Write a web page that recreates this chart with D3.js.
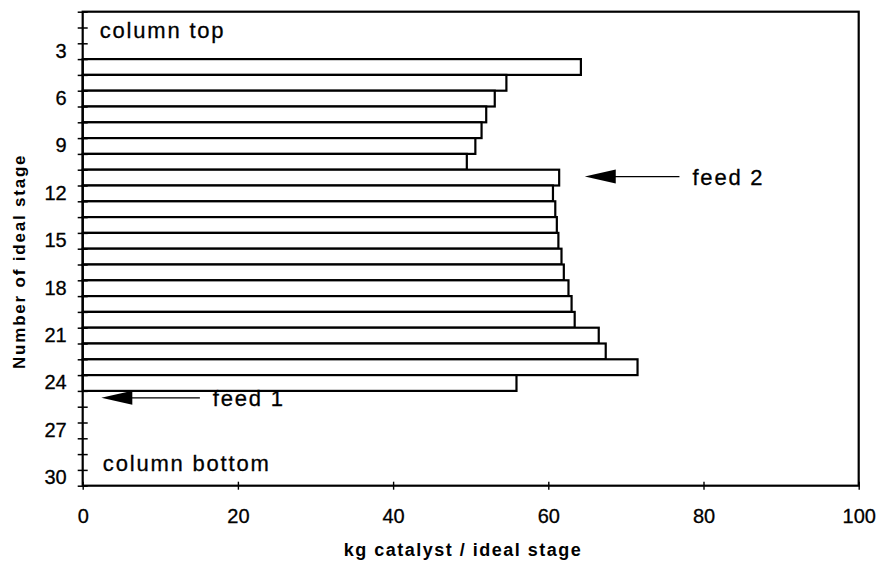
<!DOCTYPE html>
<html>
<head>
<meta charset="utf-8">
<script src="https://cdn.jsdelivr.net/npm/d3@7"></script>
<style>
  body { margin: 0; background: #fff; }
  svg { display: block; font-family: "Liberation Sans", Arial, sans-serif; }
</style>
</head>
<body>
<svg id="chart"></svg>
<script>
// stages that carry catalyst (column top = stage 1)
let stages = [4, 5, 6, 7, 8, 9, 10, 11, 12, 13, 14, 15, 16, 17, 18, 19, 20, 21, 22, 23, 24];
let catalystKg = [64.2, 54.6, 53.1, 52.0, 51.4, 50.6, 49.5, 61.4, 60.6, 60.9, 61.1,
                  61.3, 61.7, 62.0, 62.6, 63.0, 63.4, 66.5, 67.4, 71.5, 55.9];
let stageTickLabels = [3, 6, 9, 12, 15, 18, 21, 24, 27, 30];
let xTickValues = [0, 20, 40, 60, 80, 100];
let feedNames = ["feed 1", "feed 2"];
let feedStages = [25, 11];
let feedArrowFrom = [15.1, 76.9];
let feedArrowTo = [2.4, 64.7];

function drawChart(){
    let config = chartConfig();
    let scales = chartScales(config);
    drawBars(scales, config);
    drawAxes(scales, config);
    drawNotes(scales, config);
}

function chartConfig(){
    let width = 877;
    let height = 564;
    let margin = {top: 11.7, left: 82.7, right: 18.3, bottom: 78.3};
    let bodyWidth = width - margin.left - margin.right;
    let bodyHeight = height - margin.top - margin.bottom;
    let container = d3.select("#chart").attr("width", width).attr("height", height);
    let body = container.append("g")
        .attr("transform", `translate(${margin.left},${margin.top})`);
    return {width, height, margin, bodyWidth, bodyHeight, container, body};
}

function chartScales(config){
    let {bodyWidth, bodyHeight} = config;
    let xScale = d3.scaleLinear().domain([0, 100]).range([0, bodyWidth]);
    let yBand = d3.scaleBand().domain(d3.range(1, 31)).range([0, bodyHeight]).padding(0);
    let yLin = d3.scaleLinear().domain([0, 30]).range([0, bodyHeight]);
    return {xScale, yBand, yLin};
}

function drawAxes(scales, config){
    let {body, bodyWidth, bodyHeight, margin} = config;
    let {xScale, yBand, yLin} = scales;

    // y ticks at stage boundaries, crossing the axis
    let yTicks = body.append("g")
        .call(d3.axisLeft(yLin).tickValues(d3.range(0, 31)).tickFormat("").tickSizeInner(5).tickSizeOuter(0));
    yTicks.select(".domain").remove();
    yTicks.selectAll(".tick line").attr("x1", -5).attr("x2", 5)
        .attr("stroke", "#000").attr("stroke-width", 1.5);

    // y labels centred in each stage band
    let yLabels = body.append("g")
        .call(d3.axisLeft(yBand).tickValues(stageTickLabels).tickSize(0).tickPadding(16));
    yLabels.select(".domain").remove();
    yLabels.selectAll("text").attr("font-size", 20).attr("fill", "#000")
        .attr("stroke", "#000").attr("stroke-width", 0.3)
        .attr("font-family", "Liberation Sans, Arial, sans-serif");

    let xAxis = body.append("g")
        .attr("transform", `translate(0,${bodyHeight})`)
        .call(d3.axisBottom(xScale).tickValues(xTickValues).tickSizeInner(4).tickSizeOuter(0).tickPadding(19));
    xAxis.select(".domain").remove();
    xAxis.selectAll(".tick line").attr("y1", -4).attr("stroke", "#000").attr("stroke-width", 1.4);
    xAxis.selectAll("text").attr("font-size", 20).attr("fill", "#000")
        .attr("stroke", "#000").attr("stroke-width", 0.3)
        .attr("font-family", "Liberation Sans, Arial, sans-serif");

    // plot frame
    body.append("rect")
        .attr("width", bodyWidth).attr("height", bodyHeight)
        .attr("fill", "none").attr("stroke", "#000").attr("stroke-width", 2.2);

    config.container.append("text")
        .attr("x", margin.left + xScale(49))
        .attr("y", 556)
        .attr("text-anchor", "middle")
        .attr("font-size", 18).attr("font-weight", "bold")
        .attr("letter-spacing", 1.5)
        .text("kg catalyst / ideal stage");

    config.container.append("text")
        .attr("transform", `translate(25,${margin.top + yLin(15.8)}) rotate(-90)`)
        .attr("text-anchor", "middle")
        .attr("font-size", 17).attr("font-weight", "bold")
        .attr("letter-spacing", 1.8)
        .text("Number of ideal stage");
}

function drawBars(scales, config){
    let {body} = config;
    let {xScale, yBand} = scales;
    let rows = stages.map((s, i) => ({stage: s, kg: catalystKg[i]}));
    body.selectAll(".bar").data(rows).enter().append("rect")
        .attr("class", "bar")
        .attr("x", 0)
        .attr("y", (d) => yBand(d.stage))
        .attr("width", (d) => xScale(d.kg))
        .attr("height", yBand.bandwidth())
        .attr("fill", "#fff")
        .attr("stroke", "#000")
        .attr("stroke-width", 2.2);
}

function drawNotes(scales, config){
    let {body} = config;
    let {xScale, yBand, yLin} = scales;
    let half = yBand.bandwidth() / 2;

    let note = (x, y, txt) => body.append("text")
        .attr("x", x).attr("y", y)
        .attr("font-size", 22).attr("letter-spacing", 1.8)
        .attr("stroke", "#000").attr("stroke-width", 0.3)
        .text(txt);

    note(xScale(2.2), yLin(1.66), "column top");
    note(xScale(2.6), yLin(29.1), "column bottom");

    feedNames.forEach((name, i) => {
        let y = yBand(feedStages[i]) + half - 1;
        let tip = xScale(feedArrowTo[i]);
        body.append("line")
            .attr("x1", tip + 28).attr("x2", xScale(feedArrowFrom[i]))
            .attr("y1", y).attr("y2", y)
            .attr("stroke", "#000").attr("stroke-width", 1.3);
        body.append("path")
            .attr("d", `M${tip},${y} L${tip + 31},${y - 7} L${tip + 31},${y + 7} Z`)
            .attr("fill", "#000");
        note(xScale(feedArrowFrom[i]) + 13, y + 8, name);
    });
}

drawChart();
</script>
</body>
</html>
